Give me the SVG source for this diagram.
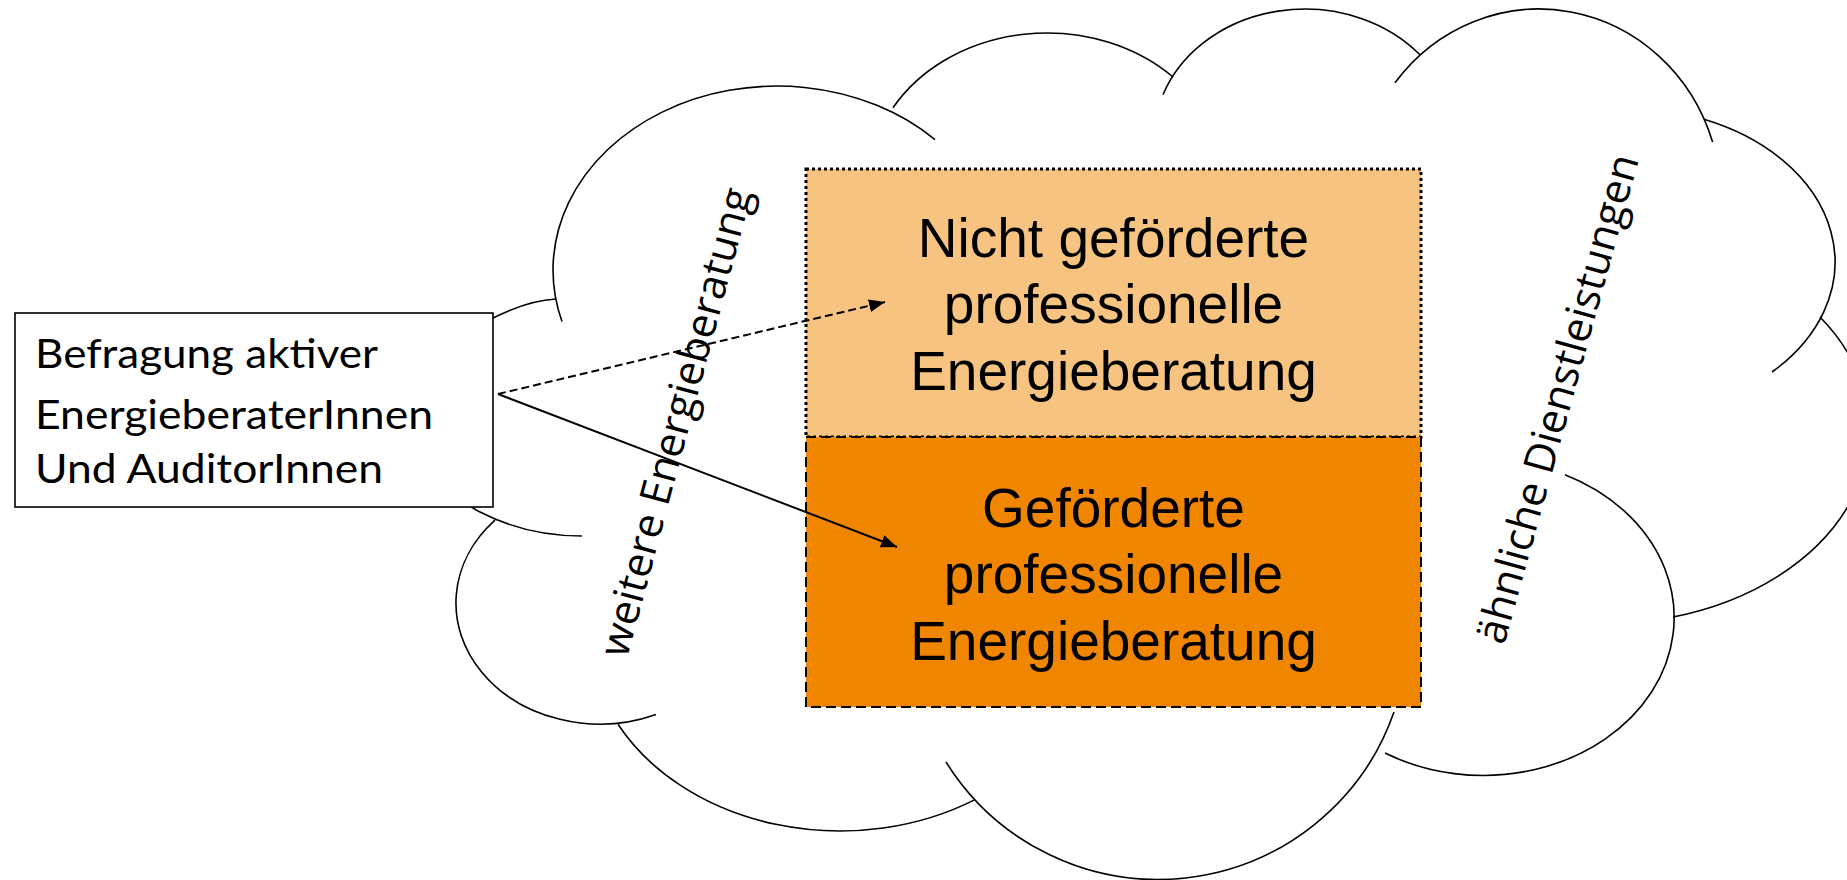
<svg xmlns="http://www.w3.org/2000/svg" width="1847" height="880" viewBox="0 0 1847 880">
  <style>
    .cloud { fill: none; stroke: #000; stroke-width: 1.6; }
    .rot { font-family: "Open Sans", "DejaVu Sans", sans-serif; font-size: 42px; fill: #000; }
    .boxtxt { font-family: "Liberation Sans", Arial, sans-serif; font-size: 55px; fill: #000; text-anchor: middle; }
    .lefttxt { font-family: Lato, "Liberation Sans", sans-serif; font-size: 40px; fill: #000; }
    .conn { stroke: #000; stroke-width: 2; fill: none; }
  </style>
  <defs>
    <marker id="arrow" markerUnits="userSpaceOnUse" markerWidth="17" markerHeight="13" refX="16" refY="6.5" orient="auto">
      <path d="M0,0 L16,6.5 L0,13 z" fill="#000"/>
    </marker>
  </defs>
  <rect width="1847" height="880" fill="#fff"/>

  <g id="cloud">
    <path class="cloud" d="M582,536 C550,536 515,530 480,512 C380,460 440,345 493,318 C515,307 535,300 556,299"/>
    <path class="cloud" d="M562,321.6 A224 184 0 0 1 935,139.6"/>
    <path class="cloud" d="M893,107.8 A178 150 0 0 1 1173,77"/>
    <path class="cloud" d="M1163,94.8 A151 130 0 0 1 1420,54.8"/>
    <path class="cloud" d="M1395,82.8 A182 190 0 0 1 1712.6,142"/>
    <path class="cloud" d="M1704,119.3 A210 154 0 0 1 1772,372"/>
    <path class="cloud" d="M1820,317 A266 194 0 0 1 1673,617"/>
    <path class="cloud" d="M1565,474.7 A191 158 0 1 1 1385,753"/>
    <path class="cloud" d="M1394,712 A250 250 0 0 1 946,762"/>
    <path class="cloud" d="M975,799.6 A251 200 0 0 1 618,724.3"/>
    <path class="cloud" d="M656,714.5 A144 121 0 0 1 495,520.2"/>
  </g>

  <g id="label-weitere">
    <text class="rot" transform="translate(627,659) rotate(-75)">weitere Energieberatung</text>
  </g>
  <g id="label-aehnliche">
    <text class="rot" transform="translate(1504,646) rotate(-74.5)">ähnliche Dienstleistungen</text>
  </g>

  <g id="node-nicht-gefoerdert">
    <rect x="806" y="169" width="615" height="268" fill="#F7C380" stroke="#000" stroke-width="3" stroke-dasharray="3 3"/>
    <text class="boxtxt" x="1113.5" y="257">Nicht geförderte</text>
    <text class="boxtxt" x="1113.5" y="323">professionelle</text>
    <text class="boxtxt" x="1113.5" y="390">Energieberatung</text>
  </g>

  <g id="node-gefoerdert">
    <rect x="806" y="437" width="615" height="270" fill="#F08500" stroke="#000" stroke-width="2" stroke-dasharray="10 5"/>
    <text class="boxtxt" x="1113.5" y="527">Geförderte</text>
    <text class="boxtxt" x="1113.5" y="593">professionelle</text>
    <text class="boxtxt" x="1113.5" y="660">Energieberatung</text>
  </g>

  <g id="node-befragung">
    <rect x="15" y="313" width="478" height="194" fill="#fff" stroke="#000" stroke-width="1.6"/>
    <text class="lefttxt" x="35" y="368" textLength="343" lengthAdjust="spacingAndGlyphs">Befragung aktiver</text>
    <text class="lefttxt" x="35" y="429" textLength="398" lengthAdjust="spacingAndGlyphs">EnergieberaterInnen</text>
    <text class="lefttxt" x="35" y="483" textLength="348" lengthAdjust="spacingAndGlyphs">Und AuditorInnen</text>
  </g>

  <g id="connectors">
    <line class="conn" x1="498" y1="394" x2="885" y2="302" stroke-dasharray="8 4" marker-end="url(#arrow)"/>
    <line class="conn" x1="498" y1="394" x2="897" y2="547" marker-end="url(#arrow)"/>
  </g>
</svg>
